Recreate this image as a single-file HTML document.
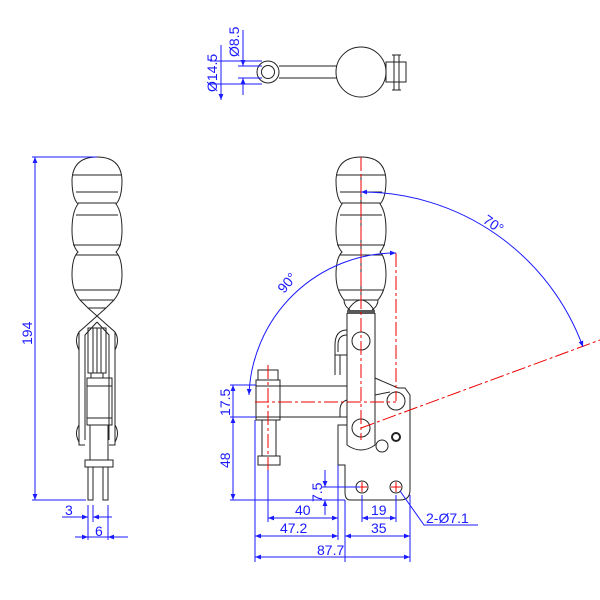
<!DOCTYPE html>
<html><head><meta charset="utf-8"><style>html,body{margin:0;padding:0;background:#fff}svg{display:block}</style></head><body>
<svg width="600" height="600" viewBox="0 0 600 600" xmlns="http://www.w3.org/2000/svg" font-family="Liberation Sans, sans-serif">
<defs>
<marker id="a" viewBox="0 0 10 10" refX="10" refY="5" markerWidth="8" markerHeight="6" orient="auto-start-reverse" markerUnits="userSpaceOnUse"><path d="M0,1L10,5L0,9z" fill="#1a1aff"/></marker>
</defs>
<g fill="none" stroke="#222" stroke-width="1">
<!-- TOP VIEW -->
<circle cx="268" cy="72" r="11"/><circle cx="268" cy="72" r="6.5"/>
<path d="M279,66H337M279,78H337"/>
<circle cx="361" cy="72" r="25"/>
<rect x="386" y="62" width="20" height="20"/><path d="M394,55V90M399,55V90M392,55H401M392,90H401"/>
<!-- LEFT VIEW handle -->
<path d="M80,300 Q72,290 72,275 Q72,258 78,252 Q72,246 72,230 Q72,212 78,204 Q72,198 72,180 Q73,157 97,157 Q121,157 122,180 Q122,198 116,204 Q122,212 122,230 Q122,246 116,252 Q122,258 122,275 Q122,290 114,300 Z"/>
<path d="M73,175H121M76,192H118M78,203H116M76,215H118M73,245H121M76,255H118M74,290H120"/>
<path d="M80,300L88,308H106L114,300M88,308L97,316L106,308"/>
<path d="M97,316L79,332V445H85M97,316L115,332V445H109M97,322L85,335V440M97,322L109,335V440"/>
<path d="M79,332Q74,340 79,350M115,332Q120,340 115,350M79,425Q74,433 79,442M115,425Q120,433 115,442"/>
<rect x="88" y="328" width="18" height="45"/><path d="M93,328V373M97,328V373M101,328V373"/>
<rect x="91" y="373" width="12" height="5"/>
<rect x="87" y="378" width="25" height="8"/><rect x="87" y="386" width="25" height="32"/><rect x="87" y="418" width="25" height="7"/>
<rect x="90" y="425" width="18" height="35"/>
<rect x="85" y="460" width="28" height="7"/>
<rect x="88" y="467" width="5" height="33"/><rect x="103" y="467" width="5" height="33"/>
<!-- RIGHT VIEW handle -->
<path d="M344,300 Q336,290 336,275 Q336,258 342,252 Q336,246 336,230 Q336,212 342,204 Q336,198 336,180 Q337,157 361,157 Q385,157 386,180 Q386,198 380,204 Q386,212 386,230 Q386,246 380,252 Q386,258 386,275 Q386,290 378,300 Z"/>
<path d="M337,175H385M340,192H382M342,203H380M340,215H382M337,245H385M340,255H382M338,290H384"/>
<path d="M361,175V300"/>
<path d="M344,300Q344,306 350,310M378,300Q378,306 372,310M348,310Q361,290 374,310"/>
<path d="M347,311H375M347,313H375" stroke-width="1.5"/>
<path d="M347,313V445Q361,455 375,445V313"/>
<circle cx="361" cy="341" r="9"/><circle cx="361" cy="428" r="9"/>
<path d="M347,330Q335,330 335,345V355H347M347,335Q338,335 338,345V352"/>
<path d="M335,355V375M340,355V375"/>
<!-- arm -->
<path d="M280,386H347M280,417H347M280,386V417M347,400Q340,402 340,410V417"/>
<rect x="258" y="370" width="20" height="10"/><rect x="256" y="380" width="24" height="40"/><path d="M256,386H280M256,417H280"/>
<path d="M262,420V456M276,420V456"/>
<rect x="258" y="456" width="22" height="9"/>
<!-- base -->
<path d="M375,378L398,388H405L410,395V490Q410,500 400,500H350Q345,500 345,492V465H338V425H347"/>
<path d="M375,395L390,392"/>
<circle cx="396" cy="401" r="9"/>
<circle cx="396" cy="437" r="4" stroke-width="2"/><circle cx="382" cy="446" r="6"/>
<circle cx="362" cy="487" r="6"/><circle cx="396" cy="487" r="6"/>
</g>
<!-- red centerlines -->
<g fill="none" stroke="#e00" stroke-width="1" stroke-dasharray="14,3,3,3">
<path d="M361,157V440M396,253V401M255,402H396M361,428L600,340M268,365V470"/>
</g>
<g stroke="#e00" stroke-width="1"><path d="M357,487H367M362,482V492M391,487H401M396,482V492"/></g>
<!-- blue dims -->
<g fill="none" stroke="#1a1aff" stroke-width="1">
<path d="M210,61H262M238,66H262M238,78H262M210,84H262"/>
<path d="M221,45V61M221,84V100" marker-end="url(#a)"/>
<path d="M221,61V84"/>
<path d="M243,30V66M243,78V95"/>
<path d="M243,55V66" marker-end="url(#a)"/><path d="M243,90V78" marker-end="url(#a)"/>
<path d="M32,157H97M32,500H86"/>
<path d="M35,157V500" marker-start="url(#a)" marker-end="url(#a)"/>
<path d="M88,505V522M93,505V522M88,505V540M108,505V540"/>
<path d="M62,517H88" marker-end="url(#a)"/><path d="M112,517H93" marker-end="url(#a)"/>
<path d="M75,537H88" marker-end="url(#a)"/><path d="M128,537H108" marker-end="url(#a)"/>
<path d="M88,537H108"/>
<path d="M230,385H256M230,417H256M230,500H345"/>
<path d="M233,385V417" marker-start="url(#a)"/>
<path d="M233,417V500" marker-start="url(#a)" marker-end="url(#a)"/>
<path d="M255,420V562M268,470V522M338,465V540M345,500V562M362,495V522M396,495V522M410,495V562"/>
<path d="M268,518H338" marker-start="url(#a)" marker-end="url(#a)"/>
<path d="M255,536H338" marker-start="url(#a)" marker-end="url(#a)"/>
<path d="M255,557H410" marker-start="url(#a)" marker-end="url(#a)"/>
<path d="M362,518H396" marker-start="url(#a)" marker-end="url(#a)"/>
<path d="M345,536H410" marker-start="url(#a)" marker-end="url(#a)"/>
<path d="M322,487H360"/>
<path d="M325,470V487" marker-end="url(#a)"/><path d="M325,515V500" marker-end="url(#a)"/>
<path d="M400,491L424,525H478"/>
<path d="M249,395A147,147 0 0 1 396,253" marker-start="url(#a)" marker-end="url(#a)"/>
<path d="M361,192A236,236 0 0 1 583,347" marker-start="url(#a)" marker-end="url(#a)"/>
</g>
<g fill="#1a1aff" font-size="14">
<text transform="translate(217,92) rotate(-90)">Ø14.5</text>
<text transform="translate(239,57) rotate(-90)">Ø8.5</text>
<text transform="translate(32,345) rotate(-90)">194</text>
<text x="65" y="515">3</text><text x="95" y="536">6</text>
<text transform="translate(230,416) rotate(-90)">17.5</text>
<text transform="translate(230,468) rotate(-90)">48</text>
<text transform="translate(322,502) rotate(-90)">7.5</text>
<text x="295" y="515">40</text>
<text x="280" y="533">47.2</text>
<text x="317" y="555">87.7</text>
<text x="371" y="515">19</text>
<text x="371" y="533">35</text>
<text x="426" y="523">2-Ø7.1</text>
<text transform="translate(284,294) rotate(-50)">90°</text>
<text transform="translate(482,222) rotate(35)">70°</text>
</g>
</svg>
</body></html>
